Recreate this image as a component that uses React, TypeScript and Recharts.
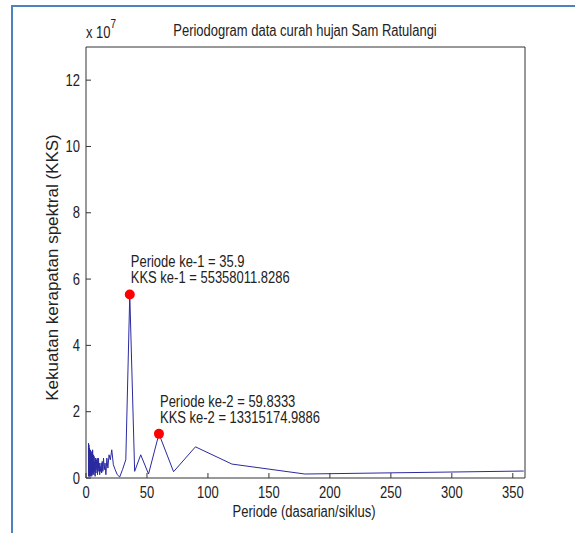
import { ComposedChart, Line, Scatter, XAxis, YAxis, Label } from 'recharts';

// periode = 359/k, nilai KKS dalam satuan 1e7
const PERIODE = [
  2.006, 2.04, 2.075, 2.112, 2.15, 2.189, 2.23, 2.272, 2.316, 2.362,
  2.409, 2.459, 2.51, 2.564, 2.62, 2.679, 2.74, 2.805, 2.872, 2.943,
  3.017, 3.095, 3.177, 3.264, 3.355, 3.452, 3.554, 3.663, 3.779, 3.902,
  4.034, 4.174, 4.325, 4.488, 4.603, 4.724, 4.851, 4.986, 5.129, 5.279,
  5.439, 5.609, 5.79, 5.983,
  6.19, 6.411, 6.648, 6.904, 7.18, 7.479, 7.804, 8.159, 8.548, 8.975,
  9.205, 9.447, 9.703, 9.972, 10.257, 10.559, 10.879, 11.219, 11.581, 11.967,
  12.379, 12.821, 13.296, 13.808, 14.36, 14.958, 15.609, 16.318, 17.095, 17.95,
  18.895, 19.944,
  21.118, 22.438, 23.933, 25.643, 27.615, 29.917, 32.636, 35.9, 39.889, 44.875,
  51.286, 59.833, 71.8, 89.75, 119.667, 179.5, 359,
];
const KKS = [
  0.95, 0.1, 1.05, 0.2, 0.8, 0.05, 0.9, 0.3, 0.7, 0.1,
  1.0, 0.15, 0.6, 0.05, 0.85, 0.25, 0.75, 0.1, 0.9, 0.05,
  0.65, 0.2, 0.8, 0.1, 0.55, 0.3, 0.85, 0.05, 0.6, 0.2,
  0.7, 0.1, 0.8, 0.2, 0.5, 0.05, 0.75, 0.15, 0.6, 0.3,
  0.85, 0.1, 0.55, 0.2,
  0.7, 0.1, 0.65, 0.2, 0.5, 0.05, 0.6, 0.15, 0.55, 0.25,
  0.6, 0.1, 0.5, 0.2, 0.6, 0.3, 0.45, 0.1, 0.35, 0.2,
  0.45, 0.15, 0.5, 0.2, 0.6, 0.25, 0.45, 0.1, 0.6, 0.3,
  0.7, 0.55,
  0.85, 0.4, 0.25, 0.1, 0.03, 0.25, 0.55, 5.5358, 0.2, 0.7,
  0.12, 1.3315, 0.19, 0.94, 0.42, 0.12, 0.21,
];

const PEAK_PERIODE = [35.9, 59.8333];
const PEAK_KKS = [5.53580118286, 1.33151749886];
const PEAK_TEKS_1 = ['Periode ke-1 = 35.9', 'Periode ke-2 = 59.8333'];
const PEAK_TEKS_2 = ['KKS ke-1 = 55358011.8286', 'KKS ke-2 = 13315174.9886'];

const X_TICKS = [0, 50, 100, 150, 200, 250, 300, 350];
const Y_TICKS = [0, 2, 4, 6, 8, 10, 12];

const data = PERIODE.map((p, i) => ({ periode: p, kks: KKS[i] }));
const peaks = PEAK_PERIODE.map((p, i) => ({
  periode: p,
  kks: PEAK_KKS[i],
  teks1: PEAK_TEKS_1[i],
  teks2: PEAK_TEKS_2[i],
}));

const FONT = "'Liberation Sans', Arial, sans-serif";
const TEXT = '#222';
const AXIS = '#333';

// the original figure is stretched vertically, so text is drawn a bit taller
function TallText({ x, y, anchor = 'start', children }: any) {
  return (
    <text
      transform={`translate(${x},${y}) scale(1,1.2)`}
      textAnchor={anchor}
      fontSize={13}
      fontFamily={FONT}
      fill={TEXT}
    >
      {children}
    </text>
  );
}

function XTick(props: any) {
  const { x, y, payload } = props;
  return (
    <TallText x={x} y={y + 11} anchor="middle">
      {payload.value}
    </TallText>
  );
}

function YTick(props: any) {
  const { x, y, payload } = props;
  return (
    <TallText x={x} y={y + 5.5} anchor="end">
      {payload.value}
    </TallText>
  );
}

function PeakDot(props: any) {
  const { cx, cy, payload } = props;
  return (
    <g>
      <circle cx={cx} cy={cy} r={5} fill="#ff0000" />
      <TallText x={cx + 1} y={cy - 27}>
        {payload.teks1}
      </TallText>
      <TallText x={cx + 1} y={cy - 11}>
        {payload.teks2}
      </TallText>
    </g>
  );
}

export default function App() {
  return (
    <div
      style={{
        position: 'fixed',
        left: 0,
        top: 0,
        width: 575,
        height: 533,
        overflow: 'hidden',
        background: '#fff',
      }}
    >
      <div
        style={{
          position: 'absolute',
          left: 11,
          top: 5,
          width: 600,
          height: 600,
          borderLeft: '2px solid #4f81bd',
          borderTop: '2px solid #4f81bd',
        }}
      />
      <div style={{ position: 'absolute', left: 0, top: 0 }}>
        <ComposedChart
          width={575}
          height={533}
          data={data}
          margin={{ top: 0, right: 0, bottom: 25, left: 46 }}
        >
          <XAxis
            dataKey="periode"
            type="number"
            domain={[0, 360]}
            ticks={X_TICKS}
            interval={0}
            allowDataOverflow
            height={30}
            tickSize={-5}
            tickMargin={14}
            axisLine={{ stroke: AXIS }}
            tickLine={{ stroke: AXIS }}
            tick={<XTick />}
          />
          <XAxis
            xAxisId="top"
            orientation="top"
            type="number"
            domain={[0, 360]}
            ticks={X_TICKS}
            interval={0}
            allowDataOverflow
            height={47}
            tickSize={-5}
            tick={false}
            axisLine={{ stroke: AXIS }}
            tickLine={{ stroke: AXIS }}
          />
          <YAxis
            type="number"
            domain={[0, 13]}
            ticks={Y_TICKS}
            interval={0}
            allowDataOverflow
            width={40}
            tickSize={-5}
            tickMargin={11}
            axisLine={{ stroke: AXIS }}
            tickLine={{ stroke: AXIS }}
            tick={<YTick />}
          >
            <Label
              value="Kekuatan kerapatan spektral (KKS)"
              angle={-90}
              position="center"
              dx={-14}
              dy={5}
              fill={TEXT}
              fontSize={17}
              fontFamily={FONT}
            />
          </YAxis>
          <YAxis
            yAxisId="right"
            orientation="right"
            type="number"
            domain={[0, 13]}
            ticks={Y_TICKS}
            interval={0}
            allowDataOverflow
            width={50}
            tickSize={-5}
            tick={false}
            axisLine={{ stroke: AXIS }}
            tickLine={{ stroke: AXIS }}
          />
          <Line
            dataKey="kks"
            stroke="#2a2aa0"
            strokeWidth={1}
            dot={false}
            activeDot={false}
            isAnimationActive={false}
          />
          <Scatter
            data={peaks}
            dataKey="kks"
            shape={PeakDot}
            isAnimationActive={false}
          />
          <TallText x={305} y={36} anchor="middle">
            Periodogram data curah hujan Sam Ratulangi
          </TallText>
          <TallText x={86} y={38}>
            x 10
            <tspan dy={-8} fontSize={10}>
              7
            </tspan>
          </TallText>
          <TallText x={304} y={517} anchor="middle">
            Periode (dasarian/siklus)
          </TallText>
        </ComposedChart>
      </div>
    </div>
  );
}
